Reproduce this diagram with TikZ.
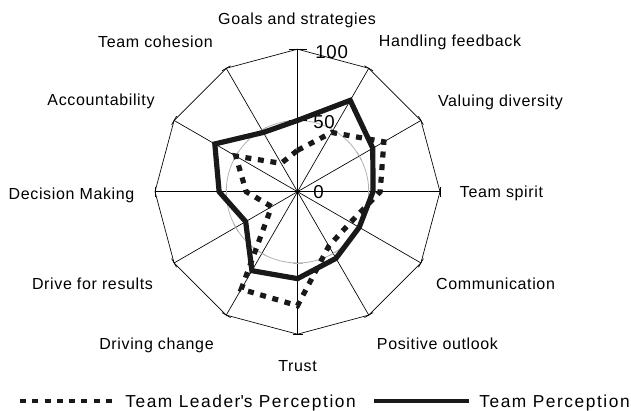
\documentclass[tikz,border=0pt]{standalone}
\usepackage{fontspec}
\setmainfont{Liberation Sans}[LetterSpace=4]
\newfontfamily\keyfont{Liberation Sans}[LetterSpace=9]
\usepackage{tikz}
\usetikzlibrary{positioning}

\begin{document}
\begin{tikzpicture}[x=0.75pt, y=0.75pt,
  axis/.style={draw=black, line width=.5pt},
  %
  ring/.style={draw=black!30, line width=.6pt},
  %
  axtick/.style={draw=black, line width=.5pt},
  %
  team/.style={draw=black!90, line width=3.9pt, line join=miter},
  %
  leader/.style={draw=black!90, line width=3.9pt,
    dash pattern=on 4.5pt off 5pt},
  %
  axlabel/.style={font=\fontsize{12}{14}\selectfont, inner sep=0pt,
    anchor=base},
  %
  scalelabel/.style={font=\fontsize{14}{16}\selectfont, inner sep=0pt,
    anchor=base west},
  %
  keytext/.style={font=\keyfont\fontsize{13}{15}\selectfont, inner sep=0pt}
  ]

  \tikzset{every path/.style={line width=.5pt}}
  \useasboundingbox (0,0) rectangle (631,410);

  \begin{scope}[shift={(297.5,218.3)}]
    %%%%%%%%%%%%%%%%%%%%%%%%%%%%%%% grid
    \coordinate (o) at (0,0);
    \draw[ring] (o) circle (71.25);
    \foreach \i in {1,...,12}{
      \pgfmathsetmacro\ang{90-30*(\i-1)}
      \coordinate (ax\i) at (\ang:142.5);
      \draw[axis] (o) -- (ax\i);
      \draw[ring, rotate=\ang] (71.25,-5) -- (71.25,5);
      \draw[axtick, rotate=\ang] (142.5,-5) -- (142.5,5);
    }
    \draw[axis] (ax1) \foreach \i in {2,...,12}{-- (ax\i)} -- cycle;
    \foreach \r in {0,71.25,142.5}
      \draw[axtick] (-9,\r) -- (9,\r);

    \node[scalelabel] (s100) at (17.5,133.4) {100};
    \node[scalelabel] (s50) at (15.5,63.4) {50};
    \node[scalelabel] (s0) at (15.5,-7.3) {0};

    %%%%%%%%%%%%%%%%%%%%%%%%%%%%%%% data
    \foreach \i/\t/\l in {1/50/29, 2/74/48, 3/61/70, 4/53/58, 5/50/43,
      6/54/44, 7/61/80, 8/64/79, 9/42/21, 10/55/36, 11/67/50, 12/48/23}{
      \pgfmathsetmacro\ang{90-30*(\i-1)}
      \coordinate (tp\i) at (\ang:{1.425*\t});
      \coordinate (tl\i) at (\ang:{1.425*\l});
    }
    \draw[leader] (tl1) \foreach \i in {2,...,12}{-- (tl\i)} -- cycle;
    \draw[team] (tp1) \foreach \i in {2,...,12}{-- (tp\i)} -- cycle;
  \end{scope}

  %%%%%%%%%%%%%%%%%%%%%%%%%%%%%%% axis names
  \foreach \i/\x/\y/\txt in {
    1/297/385/Goals and strategies,
    2/450/363.3/Handling feedback,
    3/500.5/303.3/Valuing diversity,
    4/501.5/212.3/Team spirit,
    5/495.5/120.3/Communication,
    6/437.5/60.3/Positive outlook,
    7/297.5/38.3/Trust,
    8/156.5/60/Driving change,
    9/92.5/120/Drive for results,
    10/71.5/210.7/Decision Making,
    11/101/304/Accountability,
    12/155.5/362.7/Team cohesion}
    \node[axlabel] (lbl\i) at (\x,\y) {\txt};

  %%%%%%%%%%%%%%%%%%%%%%%%%%%%%%% legend
  \coordinate (dotl) at (20,9);
  \coordinate (dotr) at (118,9);
  \draw[leader, line width=3.5pt, dash pattern=on 4.5pt off 4.7pt]
    (dotl) -- (dotr);
  \node[keytext, right=5.25pt of dotr, yshift=-1.5pt] (keyleader)
    {Team Leader\textquotesingle s Perception};

  \coordinate (soll) at (374,9);
  \coordinate (solr) at (469,9);
  \draw[team, line width=3.2pt] (soll) -- (solr);
  \node[keytext, right=7.5pt of solr, yshift=-1.5pt] (keyteam)
    {Team Perception};

\end{tikzpicture}
\end{document}
